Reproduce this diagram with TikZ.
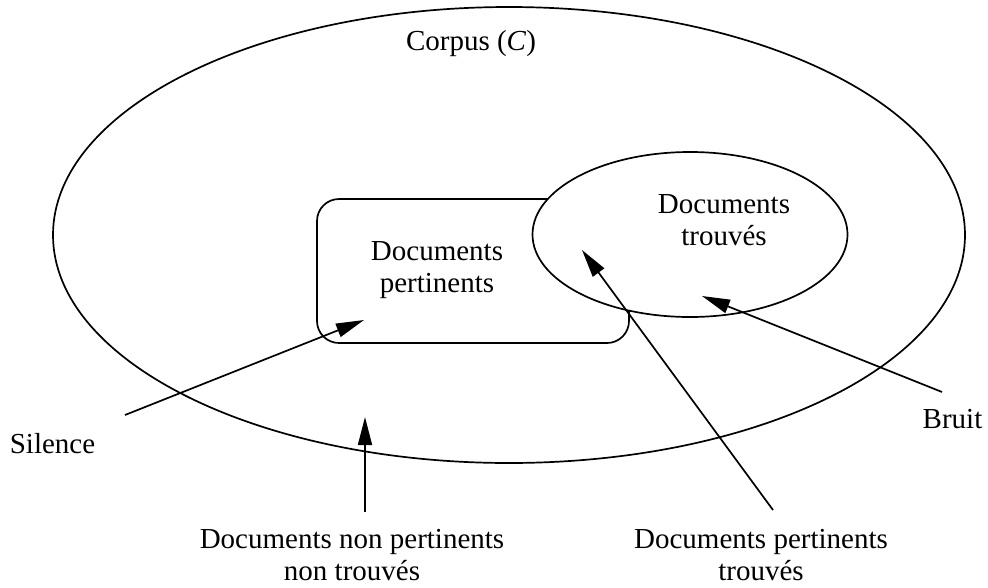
\documentclass[tikz,border=0pt]{standalone}
\usepackage{fontspec}
\setmainfont{Liberation Serif}
\usetikzlibrary{arrows.meta,shapes.geometric}
\begin{document}
\begin{tikzpicture}[x=1pt,y=-1pt,
  outline/.style={draw=black, line width=1.7pt, inner sep=0pt, outer sep=0pt},
  lbl/.style={inner sep=0pt, align=center, anchor=base, font=\fontsize{29}{32}\selectfont},
  pointer/.style={draw=black, line width=1.7pt, -{Triangle[length=28pt,width=14pt]}}]
\useasboundingbox (0,0) rectangle (988,587);

% the three sets
\node[outline, ellipse, minimum width=912pt, minimum height=456pt] (corpus) at (509,235) {};
\node[outline, rectangle, rounded corners=22pt, minimum width=312pt, minimum height=144pt] (pertinents) at (473,271) {};
\node[outline, ellipse, fill=white, minimum width=315pt, minimum height=165pt] (trouves) at (690,234.5) {};

% set labels (base anchor = baseline of the last line)
\node[lbl] (tcorpus) at (471,50) {Corpus (\textit{C})};
\node[lbl] (tpert) at (437,292) {Documents\\pertinents};
\node[lbl] (ttrouv) at (724,245) {Documents\\trouvés};

% outside labels
\node[lbl] (tsilence) at (52.5,453) {Silence};
\node[lbl] (tbruit) at (952.5,428) {Bruit};
\node[lbl] (tnpnt) at (352,580) {Documents non pertinents\\non trouvés};
\node[lbl] (tpt) at (761,580) {Documents pertinents\\trouvés};

% arrow ends
\coordinate (s0) at (125,415);
\coordinate (s1) at (364,320);
\coordinate (n0) at (365,512);
\coordinate (n1) at (365,417);
\coordinate (p0) at (773,510);
\coordinate (p1) at (582,250);
\coordinate (b0) at (942,392);
\coordinate (b1) at (702,296);

\draw[pointer] (s0) -- (s1);
\draw[pointer] (n0) -- (n1);
\draw[pointer] (p0) -- (p1);
\draw[pointer] (b0) -- (b1);
\end{tikzpicture}
\end{document}
